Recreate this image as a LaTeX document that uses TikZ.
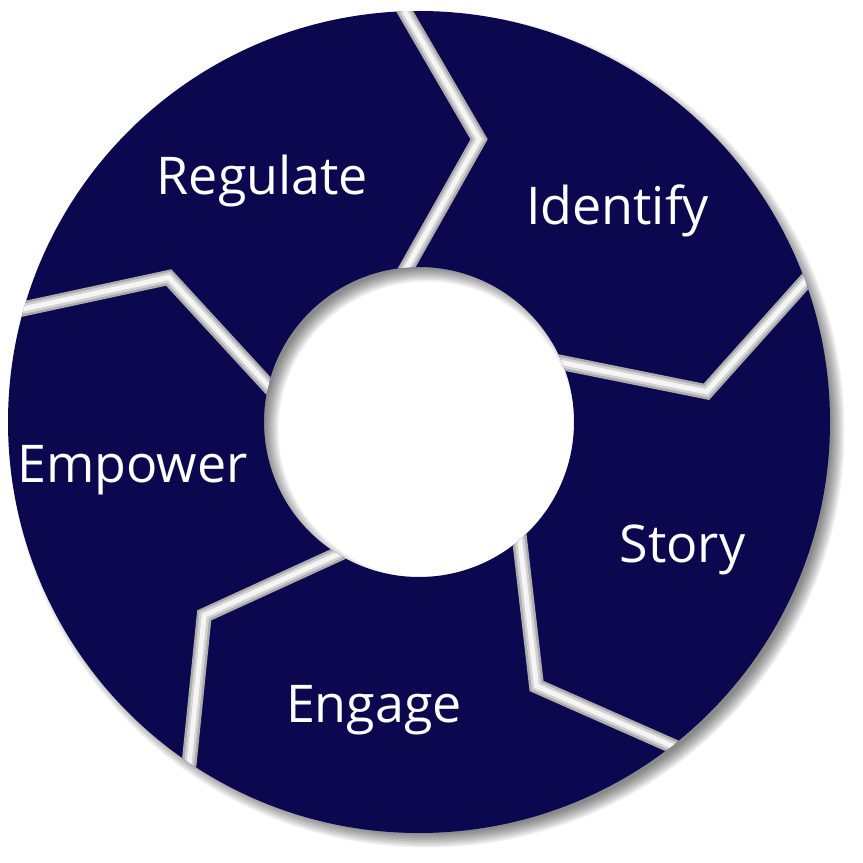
\documentclass[tikz,border=0pt]{standalone}
\usepackage{fontspec}
\setmainfont{Open Sans}
\usetikzlibrary{calc}
\definecolor{navy}{RGB}{12,8,80}
\begin{document}
\begin{tikzpicture}[x=1pt,y=1pt,
  lbl/.style={text=white, font=\fontsize{52}{60}\selectfont, inner sep=0pt, anchor=base},
  gapbase/.style={draw=gray!65, line width=15pt, line join=miter},
  gapmid/.style={draw=gray!35, line width=10pt, line join=miter},
  gapcore/.style={draw=white!92!gray, line width=5pt, line join=miter}]
\useasboundingbox (0,0) rectangle (863,863);
\begin{scope}[shift={(419,441)}]
  % drop shadow of the ring
  \foreach \s in {-7,-5.5,...,7} {
    \fill[black, opacity=0.06, even odd rule, shift={(8,-8)}]
      (0,0) circle[radius=411+\s] (0,0) circle[radius=155-\s];
  }
  % ring
  \fill[navy, even odd rule] (0,0) circle[radius=411] (0,0) circle[radius=155];
  % gap points
  \foreach \k in {0,...,4} {
    \pgfmathsetmacro\ao{92-72*\k}
    \pgfmathsetmacro\at{78-72*\k}
    \pgfmathsetmacro\ai{94.5-72*\k}
    \coordinate (o\k) at (\ao:411);
    \coordinate (t\k) at (\at:289);
    \coordinate (i\k) at (\ai:155);
  }
  \begin{scope}[even odd rule]
    \clip (0,0) circle[radius=411] (0,0) circle[radius=155];
    \foreach \k in {0,...,4} {
      \draw[gapbase] ($(t\k)!1.12!(o\k)$) -- (t\k) -- ($(t\k)!1.15!(i\k)$);
      \draw[gapmid, shift={(1.2,-1.2)}] ($(t\k)!1.12!(o\k)$) -- (t\k) -- ($(t\k)!1.15!(i\k)$);
      \draw[gapcore, shift={(2.4,-2.4)}] ($(t\k)!1.12!(o\k)$) -- (t\k) -- ($(t\k)!1.15!(i\k)$);
    }
  \end{scope}
\end{scope}
\node[lbl] (regulate) at (262.5,668) {Regulate};
\node[lbl] (identify) at (617.5,638) {Identify};
\node[lbl] (story) at (682.5,300) {Story};
\node[lbl] (engage) at (374,140) {Engage};
\node[lbl] (empower) at (132.5,380) {Empower};
\end{tikzpicture}
\end{document}
